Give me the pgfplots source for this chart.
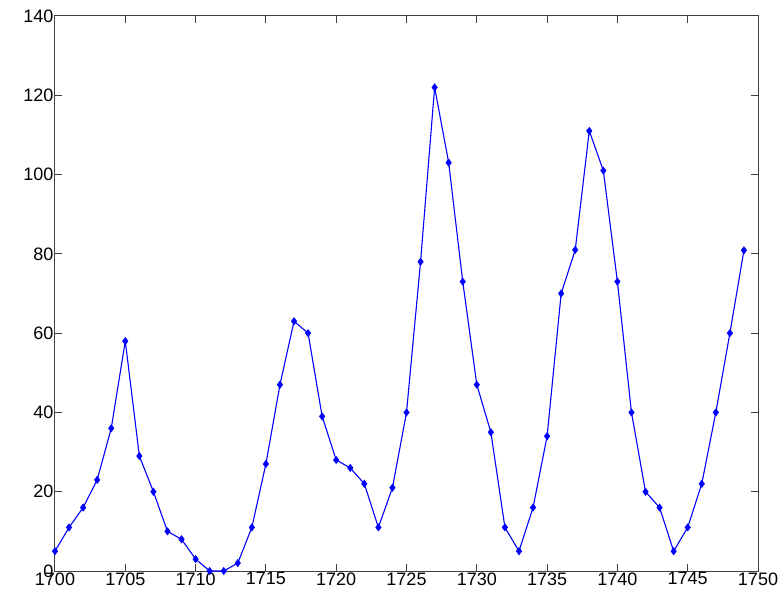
\documentclass[border=0pt]{standalone}
\usepackage{fontspec}
\setmainfont{Liberation Sans}
\usepackage{pgfplots}
\pgfplotsset{compat=1.18}

\pgfplotstableread{
year spots
1700 5
1701 11
1702 16
1703 23
1704 36
1705 58
1706 29
1707 20
1708 10
1709 8
1710 3
1711 0
1712 0
1713 2
1714 11
1715 27
1716 47
1717 63
1718 60
1719 39
1720 28
1721 26
1722 22
1723 11
1724 21
1725 40
1726 78
1727 122
1728 103
1729 73
1730 47
1731 35
1732 11
1733 5
1734 16
1735 34
1736 70
1737 81
1738 111
1739 101
1740 73
1741 40
1742 20
1743 16
1744 5
1745 11
1746 22
1747 40
1748 60
1749 80.9
}\sunspots

\begin{document}
\begin{tikzpicture}
\begin{axis}[
    scale only axis,
    width=703pt, height=555pt,
    xmin=1700, xmax=1750,
    ymin=0, ymax=140,
    xtick={1700,1705,...,1750},
    ytick={0,20,...,140},
    tick align=inside,
    major tick length=7pt,
    axis line style={black!75, line width=1pt},
    tick style={black!75, line width=1pt},
    tick label style={font=\fontsize{18}{18}\selectfont},
    /pgf/number format/assume math mode=true,
    xticklabel style={/pgf/number format/1000 sep={}, yshift=2pt},
    yticklabel style={xshift=2pt},
    clip=false,
]
\addplot[color=blue, line width=1.1pt, mark=diamond*, mark size=3.6pt,
    mark options={fill=blue, line width=0.6pt}] table[x=year, y=spots] {\sunspots};
\end{axis}
\path (current axis.south west) ++(-55pt,-32pt) coordinate (bbA);
\path (current axis.north east) ++(25pt,16pt) coordinate (bbB);
\useasboundingbox (bbA) rectangle (bbB);
\end{tikzpicture}
\end{document}
